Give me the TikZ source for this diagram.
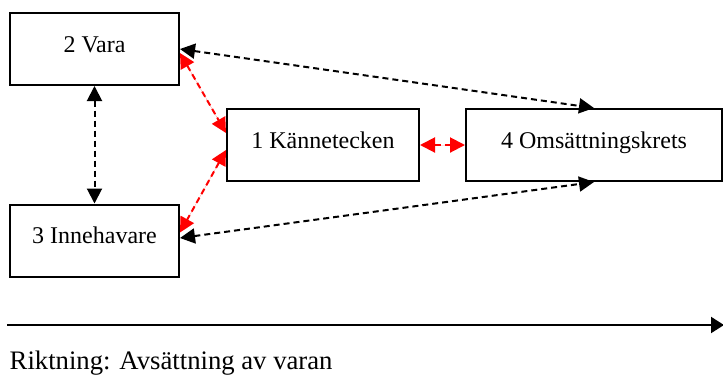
\documentclass[tikz,border=0pt]{standalone}
\usepackage{fontspec}
\setmainfont{Liberation Serif}
\usetikzlibrary{arrows.meta}
\begin{document}
\begin{tikzpicture}[x=1pt,y=-1pt,
  box/.style={draw=black,line width=2pt,fill=white,inner sep=0pt,
    minimum height=72pt,text height=16pt,text depth=10pt,
    font=\fontsize{24}{28}\selectfont},
  link/.style={line width=2pt,dash pattern=on 6pt off 4pt,
    {Triangle[length=15pt,width=15pt]}-{Triangle[length=15pt,width=15pt]}},
  blk/.style={link,draw=black},
  rd/.style={link,draw=red,fill=red}]
\useasboundingbox (0,0) rectangle (723,376);
\node[box,minimum width=169pt] (v) at (94.5,49) {2 Vara};
\node[box,minimum width=169pt] (i) at (94.5,240.5) {3 Innehavare};
\node[box,minimum width=192pt] (k) at (323,145) {1 Kännetecken};
\node[box,minimum width=256pt] (o) at (594,145) {4 Omsättningskrets};
\draw[blk] (v.south) -- (i.north);
\draw[blk] (v.east) -- (o.north);
\draw[blk] ([yshift=2.5pt]i.east) -- (o.south);
\draw[rd] ([yshift=-4pt]v.east) -- ([yshift=12pt]k.west);
\draw[rd] ([yshift=-5pt]k.west) -- ([yshift=8pt]i.east);
\draw[rd] (k.east) -- (o.west);
\coordinate (a) at (7,325);
\coordinate (b) at (724,325);
\draw[line width=2pt,-{Triangle[length=13pt,width=16pt]}] (a) -- (b);
\node[anchor=base west,inner sep=0pt,font=\fontsize{26.7}{30}\selectfont] (t) at (9.5,369.5) {Riktning: Avsättning av varan};
\end{tikzpicture}
\end{document}
